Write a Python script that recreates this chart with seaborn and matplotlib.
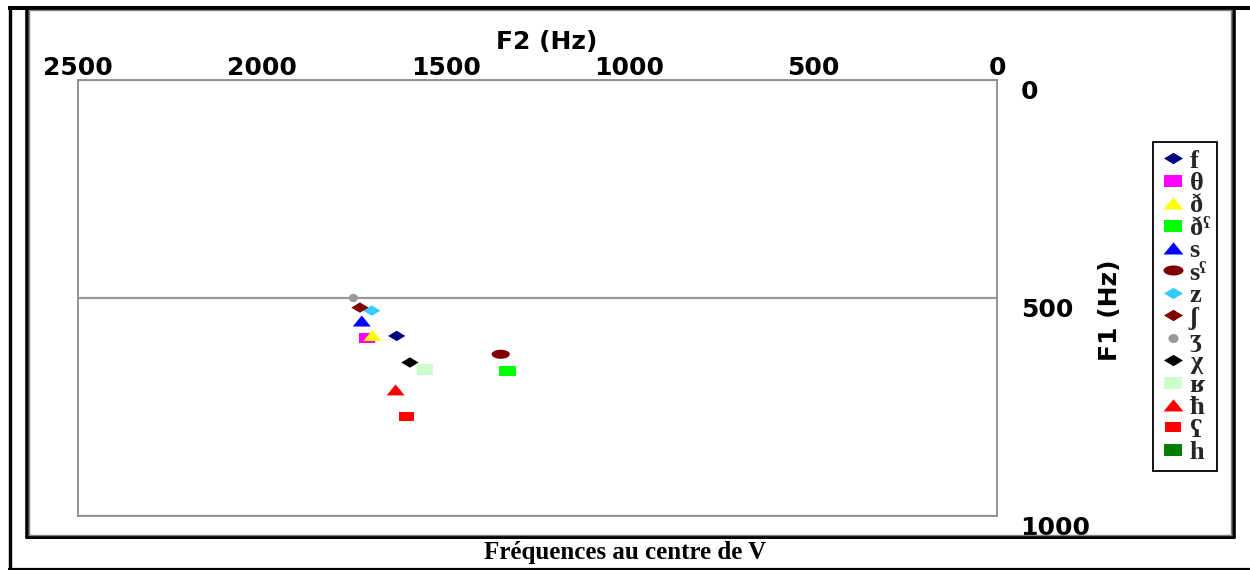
import numpy as np
import pandas as pd
import matplotlib
matplotlib.use("Agg")
import matplotlib.pyplot as plt
from matplotlib.lines import Line2D
import seaborn as sns

# Phonemes (legend order), second and first formant at the vowel centre
phonemes = ["f", "θ", "ð", "ð\u02e4", "s", "s\u02e4", "z", "ʃ", "ʒ", "χ", "ʁ", "ħ", "ʕ", "h"]
f2_hz = [1633, 1713, 1699, 1332, 1728, 1350, 1701, 1733, 1751, 1597, 1556, 1636, 1606, np.nan]
f1_hz = [587, 591, 586, 667, 553, 629, 529, 522, 500, 648, 664, 711, 772, np.nan]

f2_ticks = [2500, 2000, 1500, 1000, 500, 0]
f1_ticks = [0, 500, 1000]

colors = ["#000080", "#FF00FF", "#FFFF00", "#00FF00", "#0000FF", "#800000",
          "#33CCFF", "#800000", "#999999", "#000000", "#CCFFCC", "#FF0000",
          "#FF0000", "#008000"]
shapes = ["diamond", "rect", "triangle", "rect", "triangle", "ellipse",
          "diamond", "diamond", "dot", "diamond", "rect", "triangle",
          "smallrect", "rect"]

# Marker outlines (vertices) and scatter sizes
_t = np.linspace(0, 2 * np.pi, 48, endpoint=False)
MARKERS = {
    "diamond": ([(-1, 0), (0, 0.6), (1, 0), (0, -0.6)], 155),
    "rect": ([(-1, -0.62), (1, -0.62), (1, 0.62), (-1, 0.62)], 138),
    "smallrect": ([(-1, -0.55), (1, -0.55), (1, 0.55), (-1, 0.55)], 120),
    "triangle": ([(-1, -0.6), (1, -0.6), (0, 0.62)], 170),
    "ellipse": (np.column_stack([np.cos(_t), 0.5 * np.sin(_t)]), 172),
    "dot": (np.column_stack([np.cos(_t), 0.88 * np.sin(_t)]), 44),
}

sns.set_theme(style="white")
plt.rcParams["font.family"] = ["DejaVu Sans"]

W, H = 1250, 570
fig = plt.figure(figsize=(W / 100, H / 100), dpi=100)
ax = fig.add_axes([78 / W, 1 - 516 / H, 919 / W, 436 / H])

df = pd.DataFrame({"phoneme": phonemes, "F2": f2_hz, "F1": f1_hz})
for name, color, shape in zip(phonemes, colors, shapes):
    sub = df[df["phoneme"] == name].dropna()
    if sub.empty:
        continue
    verts, size = MARKERS[shape]
    sns.scatterplot(data=sub, x="F2", y="F1", ax=ax, marker=verts, s=size,
                    color=color, edgecolor="none", linewidth=0,
                    legend=False, zorder=3)

ax.set_xlim(2500, 0)
ax.set_ylim(1000, 0)
ax.set_xticks(f2_ticks)
ax.set_yticks(f1_ticks)
ax.set_xticklabels([str(v) for v in f2_ticks])
ax.set_yticklabels([str(v) for v in f1_ticks])

ax.xaxis.tick_top()
ax.yaxis.tick_right()
ax.tick_params(axis="x", length=0, pad=0, labelsize=18)
ax.tick_params(axis="y", length=0, pad=17, labelsize=18)
for lbl in ax.get_xticklabels() + ax.get_yticklabels():
    lbl.set_fontweight("bold")
    lbl.set_color("black")
for lbl in ax.get_yticklabels():
    lbl.set_va("top")

ax.grid(False)
ax.yaxis.grid(True, color="#999999", linewidth=1.6)
ax.set_axisbelow(True)
for sp in ax.spines.values():
    sp.set_color("#8c8c8c")
    sp.set_linewidth(1.3)

ax.xaxis.set_label_position("top")
ax.set_xlabel("F2 (Hz)", fontsize=18, fontweight="bold", color="black")
ax.xaxis.set_label_coords((547 - 78) / 919, 1 + (80 - 54) / 436)
ax.xaxis.label.set_va("bottom")

ax.yaxis.set_label_position("right")
ax.set_ylabel("F1 (Hz)", fontsize=18, fontweight="bold", color="black", rotation=90)
ax.yaxis.label.set_ha("center")
ax.yaxis.label.set_va("center")
ax.yaxis.set_label_coords((1110 - 78) / 919, 1 - (310 - 80) / 436)

# Legend built from the same colours and marker shapes
handles = [Line2D([], [], linestyle="none", marker=MARKERS[sh][0],
                  markersize=1.1 * np.sqrt(MARKERS[sh][1]), markerfacecolor=c,
                  markeredgewidth=0)
           for c, sh in zip(colors, shapes)]
leg = ax.legend(handles, phonemes, loc="upper left",
                bbox_to_anchor=(1153 / W, 1 - 142 / H),
                bbox_transform=fig.transFigure, borderaxespad=0,
                frameon=True, fancybox=False, framealpha=1,
                edgecolor="black", handlelength=1.0, handletextpad=0.12,
                labelspacing=-0.04, borderpad=0.27,
                prop=dict(family=["Liberation Serif", "DejaVu Serif"],
                          weight="bold", size=19))
leg.get_frame().set_linewidth(1.3)


def fx(x):
    return x / W


def fy(y):
    return 1 - y / H


# Page frame around the chart and the caption cell
frame_lines = [
    ((fx(10), fx(10)), (fy(6), fy(570)), 3.4, "black"),
    ((fx(8), fx(1250)), (fy(569), fy(569)), 2.2, "black"),
    ((fx(8), fx(1250)), (fy(8), fy(8)), 4.0, "black"),
    ((fx(26.7), fx(26.7)), (fy(6), fy(538)), 3.6, "black"),
    ((fx(1233.5), fx(1233.5)), (fy(6), fy(538)), 3.6, "black"),
    ((fx(25), fx(1235)), (fy(536.8), fy(536.8)), 3.0, "black"),
    ((fx(28.8), fx(28.8)), (fy(10), fy(535)), 1.4, "#808080"),
    ((fx(1231.4), fx(1231.4)), (fy(10), fy(535)), 1.4, "#808080"),
    ((fx(28.5), fx(1232)), (fy(534.8), fy(534.8)), 1.4, "#808080"),
    ((fx(28.5), fx(1232)), (fy(10.3), fy(10.3)), 1.4, "#808080"),
]
for xs, ys, lw, col in frame_lines:
    fig.add_artist(Line2D(xs, ys, transform=fig.transFigure, color=col,
                          linewidth=lw * 0.72, solid_capstyle="butt"))

fig.text(0.5, fy(553), "Fréquences au centre de V", ha="center", va="center",
         family=["Liberation Serif", "DejaVu Serif"], fontweight="bold",
         fontsize=18, color="black")

fig.savefig("out.png", dpi=100, facecolor="white")
